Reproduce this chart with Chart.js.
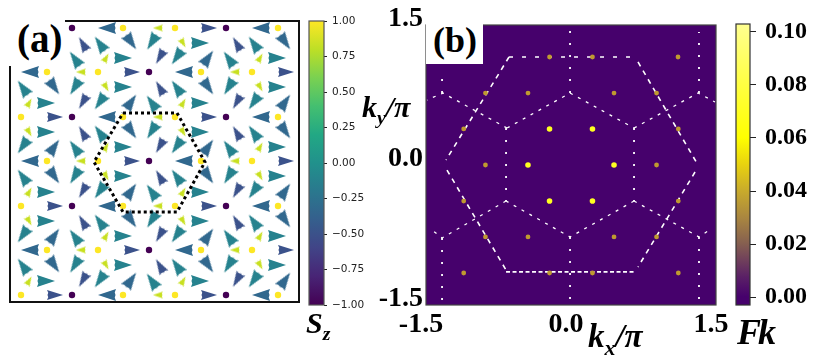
<!DOCTYPE html>
<html>
<head>
<meta charset="utf-8">
<script src="https://cdn.jsdelivr.net/npm/chart.js@4"></script>
<style>
html,body{margin:0;padding:0;background:#fff;width:814px;height:363px;overflow:hidden}
canvas{position:absolute;left:0;top:0}
.t{position:absolute;font-family:"Liberation Serif",serif;font-weight:bold;line-height:1;color:#000;white-space:nowrap;z-index:5}
.i{font-style:italic}
.t sub{font-size:.66em;line-height:0;vertical-align:-.36em}
.box{position:absolute;background:#fff;z-index:4}
</style>
</head>
<body>
<canvas id="cA" width="814" height="363"></canvas>
<canvas id="cAbar" width="814" height="363"></canvas>
<canvas id="cB" width="814" height="363"></canvas>
<canvas id="cBbar" width="814" height="363"></canvas>
<div class="box" style="left:0;top:0;width:65px;height:66px"></div>
<div class="box" style="left:426px;top:0;width:57px;height:64px"></div>
<div class="t" style="left:17px;top:19px;font-size:39px">(a)</div>
<div class="t" style="left:433px;top:22px;font-size:36px">(b)</div>
<div class="t i" style="left:362px;top:92px;font-size:30px">k<sub>y</sub>/π</div>
<div class="t i" style="left:588px;top:320px;font-size:33px">k<sub>x</sub>/π</div>
<div class="t i" style="left:306px;top:308px;font-size:30px">S<sub>z</sub></div>
<div class="t i" style="left:737px;top:314px;font-size:36px;letter-spacing:-3px">Fk</div>
<script>
// ---------- panel (a): spin texture (picture-unit coordinates) ----------
const purpleSites=[[72,28],[226,28],[149,72],[72,117],[226,117],[149,161],[72,206],[226,206],[149,250],[72,295],[226,295]];
const yellowSites=[[123,28],[175,28],[278,28],[47,72],[98,72],[201,72],[252,72],[21,117],[123,117],[175,117],[278,117],[47,161],[98,161],[201,161],[252,161],[21,206],[123,206],[175,206],[278,206],[47,250],[98,250],[201,250],[252,250],[21,295],[123,295],[175,295],[278,295]];
// indigo arrows (Sz about -0.5)
const indigoRight=[[55,117],[55,206],[55,295],[132,72],[132,161],[132,250],[209,28],[209,117],[209,206],[209,295],[286,72],[286,161],[286,250]];
const indigoDown=[[83,102],[83,191],[83,280],[160,57],[160,146],[160,235],[237,102],[237,191],[237,280]];
const indigoUp=[[83,44],[83,133],[83,222],[160,88],[160,177],[160,266],[237,44],[237,133],[237,222]];
// blue arrows (Sz about -0.25)
const blueLeft=[[30,72],[30,161],[30,250],[107,28],[107,117],[107,206],[107,295],[184,72],[184,161],[184,250],[261,28],[261,117],[261,206],[261,295]];
const blueDown=[[54,87],[54,176],[54,265],[131,42],[131,131],[131,220],[208,87],[208,176],[208,265],[285,42],[285,131],[285,220]];
const blueUp=[[54,147],[54,236],[131,102],[131,191],[131,280],[208,58],[208,147],[208,236],[285,102],[285,191],[285,280]];
// teal arrows (Sz about 0)
const tealRightA=[[46,103],[46,192],[46,281],[123,58],[123,147],[123,236],[200,103],[200,192],[200,281],[277,58],[277,147],[277,236]];
const tealRightB=[[46,132],[46,221],[123,87],[123,176],[123,265],[200,43],[200,132],[200,221],[277,87],[277,176],[277,265]];
const tealDownA=[[75,87],[75,176],[75,265],[152,42],[152,131],[152,220],[229,87],[229,176],[229,265]];
const tealUpA=[[75,59],[75,148],[75,237],[152,103],[152,192],[152,281],[229,59],[229,148],[229,237]];
const tealDownB=[[23,146],[23,235],[100,102],[100,191],[100,280],[177,57],[177,146],[177,235],[254,102],[254,191],[254,280]];
const tealUpB=[[23,88],[23,177],[23,266],[100,44],[100,133],[100,222],[177,88],[177,177],[177,266],[254,44],[254,133],[254,222]];
// small yellow-green arrows (Sz about 0.85)
const smallLeft=[[81,72],[81,161],[81,250],[158,28],[158,117],[158,206],[158,295],[235,72],[235,161],[235,250]];
const smallUp=[[29,103],[29,192],[29,281],[106,58],[106,147],[106,236],[183,103],[183,192],[183,281],[260,58],[260,147],[260,236]];
const smallDown=[[29,132],[29,221],[106,87],[106,176],[106,265],[183,43],[183,132],[183,221],[260,87],[260,176],[260,265]];
const hexagonA=[[123,113],[177,113],[205,162],[177,212],[123,212],[94,162],[123,113]];
// arrow directions, degrees clockwise from up
const rotations={right:90,left:270,indigoDown:210,indigoUp:330,blueDown:145,blueUp:35,tealDownA:212,tealUpA:325,tealDownB:215,tealUpB:325,smallUp:30,smallDown:150};

// ---------- panel (b): Fourier spots and zone-boundary lines, in units of pi ----------
const brightSpots=[[-0.222,0.386],[0.222,0.386],[-0.445,0],[0.445,0],[-0.222,-0.386],[0.222,-0.386]];
const dimSpots=[[-0.222,1.157],[0.222,1.157],[1.107,1.157],[-0.885,0.771],[-0.445,0.771],[0.445,0.771],[0.885,0.771],[-1.11,0.386],[1.11,0.386],[-0.885,0],[0.885,0],[-1.11,-0.386],[1.11,-0.386],[-0.885,-0.771],[-0.445,-0.771],[0.445,-0.771],[0.885,-0.771],[-1.11,-1.157],[-0.222,-1.157],[0.222,-1.157],[1.11,-1.157]];
const bottomEdge=[[-0.672,-1.146],[0.652,-1.146]];
const topEdge=[[-0.641,1.157],[0.672,1.157]];
const outerSides=[[[-0.641,1.157],[-1.293,0.054]],[[0.693,1.104],[1.314,0]],[[-1.283,-0.054],[-0.672,-1.125]],[[1.283,-0.075],[0.693,-1.093]]];
const webLines=[[[-0.01,0.771],[0.652,0.396]],[[0.652,-0.386],[-0.01,-0.771],[-0.672,-0.386]],[[-0.662,0.396],[-0.01,0.771]],[[-0.662,0.396],[-1.324,0.771],[-1.49,0.696]],[[0.652,0.396],[1.314,0.771],[1.49,0.675]],[[-0.672,-0.386],[-1.334,-0.782],[-1.438,-0.696]],[[0.652,-0.386],[1.324,-0.771],[1.417,-0.707]]];
const verticals=[[[-0.01,0.771],[-0.01,1.5]],[[-0.01,-0.771],[-0.01,-1.5]],[[-0.672,0.396],[-0.672,-0.386]],[[0.652,0.396],[0.652,-0.386]],[[-1.334,0.771],[-1.334,1.018]],[[1.324,0.771],[1.324,1.425]],[[-1.334,-0.782],[-1.334,-1.446]],[[1.324,-0.771],[1.324,-1.479]]];

// ---------- tick labels and colour bars ----------
const axisBTicks=[-1.5,0,1.5];
const cbarATicks=[1,0.75,0.5,0.25,0,-0.25,-0.5,-0.75,-1];
const cbarARange=[-1,1];
const cbarBTicks=[0,0.02,0.04,0.06,0.08,0.1];
const cbarBRange=[-0.003,0.103];
const viridisStops=['#440154','#482475','#414487','#355f8d','#2a788e','#21918c','#22a884','#44bf70','#7ad151','#bddf26','#fde725'];
const fkStops=[[0,'#46016c'],[0.03,'#46016c'],[0.1,'#5a2066'],[0.22,'#866050'],[0.31,'#a98640'],[0.405,'#c8aa2c'],[0.5,'#e8d20f'],[0.595,'#ffff00'],[0.78,'#ffff40'],[1,'#ffff90']];

const INK={indigo:'#3b528b',blue:'#31688e',teal:'#26828e',small:'#c8e020'};

function arrowImage(color,len,wid){
  const c=document.createElement('canvas');
  const pad=2;
  c.width=wid+pad*2;c.height=len+pad*2;
  const g=c.getContext('2d');
  g.translate(pad,pad);
  g.fillStyle=color;
  g.beginPath();
  g.moveTo(wid/2,0);
  g.lineTo(wid,len);
  g.lineTo(wid*0.72,len-1.2);
  g.lineTo(wid/2,len-0.4);
  g.lineTo(wid*0.28,len-1.2);
  g.lineTo(0,len);
  g.closePath();
  g.fill();
  return c;
}
const imgIndigo=arrowImage(INK.indigo,16,10);
const imgBlue=arrowImage(INK.blue,18,12);
const imgTeal=arrowImage(INK.teal,18,12);
const imgSmall=arrowImage(INK.small,10,7);

const toXY=a=>a.map(p=>({x:p[0],y:p[1]}));
function arrows(points,img,rot){
  return {data:toXY(points),showLine:false,pointStyle:img,pointRadius:9,pointRotation:rot,pointHoverRadius:9};
}
const frame={
  id:'frame',
  beforeDatasetsDraw(ch,a,o){
    if(o.fill){const r=ch.chartArea;ch.ctx.save();ch.ctx.fillStyle=o.fill;ch.ctx.fillRect(r.left,r.top,r.right-r.left,r.bottom-r.top);ch.ctx.restore();}
  },
  afterDraw(ch,a,o){
    const r=ch.chartArea;const c=ch.ctx;c.save();c.strokeStyle=o.color;c.lineWidth=o.width;
    c.strokeRect(r.left,r.top,r.right-r.left,r.bottom-r.top);c.restore();
  }
};
const base={responsive:false,animation:false,devicePixelRatio:1};
const quiet={legend:{display:false},tooltip:{enabled:false}};

new Chart(document.getElementById('cA'),{
  type:'scatter',
  plugins:[frame],
  data:{datasets:[
    {data:toXY(hexagonA),showLine:true,borderColor:'#000',borderWidth:3,borderDash:[3,3],pointRadius:0,fill:false},
    {data:toXY(purpleSites),backgroundColor:'#440154',pointRadius:3.2,borderWidth:0,showLine:false},
    {data:toXY(yellowSites),backgroundColor:'#fde725',pointRadius:3.2,borderWidth:0,showLine:false},
    arrows(indigoRight,imgIndigo,rotations.right),
    arrows(indigoDown,imgIndigo,rotations.indigoDown),
    arrows(indigoUp,imgIndigo,rotations.indigoUp),
    arrows(blueLeft,imgBlue,rotations.left),
    arrows(blueDown,imgBlue,rotations.blueDown),
    arrows(blueUp,imgBlue,rotations.blueUp),
    arrows(tealRightA,imgTeal,rotations.right),
    arrows(tealRightB,imgTeal,rotations.right),
    arrows(tealDownA,imgTeal,rotations.tealDownA),
    arrows(tealUpA,imgTeal,rotations.tealUpA),
    arrows(tealDownB,imgTeal,rotations.tealDownB),
    arrows(tealUpB,imgTeal,rotations.tealUpB),
    arrows(smallLeft,imgSmall,rotations.left),
    arrows(smallUp,imgSmall,rotations.smallUp),
    arrows(smallDown,imgSmall,rotations.smallDown)
  ]},
  options:{...base,
    layout:{padding:{left:10,top:21,right:814-299,bottom:363-302}},
    scales:{
      x:{type:'linear',min:10,max:299,display:false},
      y:{type:'linear',min:21,max:302,reverse:true,display:false}
    },
    plugins:{...quiet,frame:{color:'#111',width:2}}
  }
});

function colorbar(id,pad,axisWidth,range,ticks,fillFn,tickOpts){
  new Chart(document.getElementById(id),{
    type:'bar',
    plugins:[frame],
    data:{labels:['c'],datasets:[{data:[range],backgroundColor:fillFn,borderWidth:0,barPercentage:1,categoryPercentage:1}]},
    options:{...base,
      layout:{padding:pad},
      scales:{
        x:{display:false},
        y:{type:'linear',position:'right',min:range[0],max:range[1],
           afterFit(s){s.width=axisWidth;},
           afterBuildTicks(s){s.ticks=ticks.map(v=>({value:v}));},
           border:{display:false},
           grid:{drawOnChartArea:false,drawTicks:true,tickLength:tickOpts.len,tickColor:'#222',tickWidth:1},
           ticks:{color:tickOpts.color,font:tickOpts.font,padding:tickOpts.padding,autoSkip:false,
             callback:v=>Number(v).toFixed(2).replace('-','\u2212')}
        }
      },
      plugins:{...quiet,frame:{color:tickOpts.frame,width:1.2}}
    }
  });
}
colorbar('cAbar',{left:309,top:21,right:814-324-60,bottom:363-305},60,cbarARange,cbarATicks,ctx=>{
  const a=ctx.chart.chartArea;if(!a)return '#21918c';
  const g=ctx.chart.ctx.createLinearGradient(0,a.bottom,0,a.top);
  viridisStops.forEach((c,i)=>g.addColorStop(i/(viridisStops.length-1),c));
  return g;
},{len:3,color:'#222',font:{family:'DejaVu Sans',size:10.5},padding:5,frame:'#555'});
colorbar('cBbar',{left:736,top:24,right:0,bottom:363-305},64,cbarBRange,cbarBTicks,ctx=>{
  const a=ctx.chart.chartArea;if(!a)return '#ffff00';
  const g=ctx.chart.ctx.createLinearGradient(0,a.bottom,0,a.top);
  fkStops.forEach(s=>g.addColorStop(s[0],s[1]));
  return g;
},{len:6,color:'#000',font:{family:'Liberation Serif',size:24,weight:'bold'},padding:9,frame:'#333'});

function whiteLine(points,width,dash){
  return {data:toXY(points),showLine:true,borderColor:'#fff',borderWidth:width,borderDash:dash,pointRadius:0,fill:false};
}
const labelTick={color:'#000',font:{family:'Liberation Serif',size:28,weight:'bold'},autoSkip:false,maxRotation:0,minRotation:0,
  callback:v=>Number(v).toFixed(1)};
new Chart(document.getElementById('cB'),{
  type:'scatter',
  plugins:[frame],
  data:{datasets:[
    {data:toXY(brightSpots),backgroundColor:'#ffff20',pointRadius:2.8,borderWidth:0,showLine:false},
    {data:toXY(dimSpots),backgroundColor:'#c09a30',pointRadius:2.4,borderWidth:0,showLine:false},
    whiteLine(bottomEdge,1.8,[4,2.5]),
    whiteLine(topEdge,1.5,[4,9]),
    ...outerSides.map(l=>whiteLine(l,1.6,[5,5])),
    ...webLines.map(l=>whiteLine(l,1.3,[3,6])),
    ...verticals.map(l=>whiteLine(l,1.8,[2,10]))
  ]},
  options:{...base,
    layout:{padding:{left:426-60,top:25,right:814-716,bottom:363-305-45}},
    scales:{
      x:{type:'linear',min:-1.5,max:1.5,
         afterFit(s){s.height=45;},
         afterBuildTicks(s){s.ticks=axisBTicks.map(v=>({value:v}));},
         border:{display:false},grid:{display:false,drawTicks:false},
         ticks:{...labelTick,padding:3,labelOffset:-5}},
      y:{type:'linear',min:-1.5,max:1.5,
         afterFit(s){s.width=60;},
         afterBuildTicks(s){s.ticks=axisBTicks.map(v=>({value:v}));},
         border:{display:false},grid:{display:false,drawTicks:false},
         ticks:{...labelTick,padding:3,labelOffset:-6}}
    },
    plugins:{...quiet,frame:{color:'#444',width:1.2,fill:'#46016c'}}
  }
});
</script>
</body>
</html>
